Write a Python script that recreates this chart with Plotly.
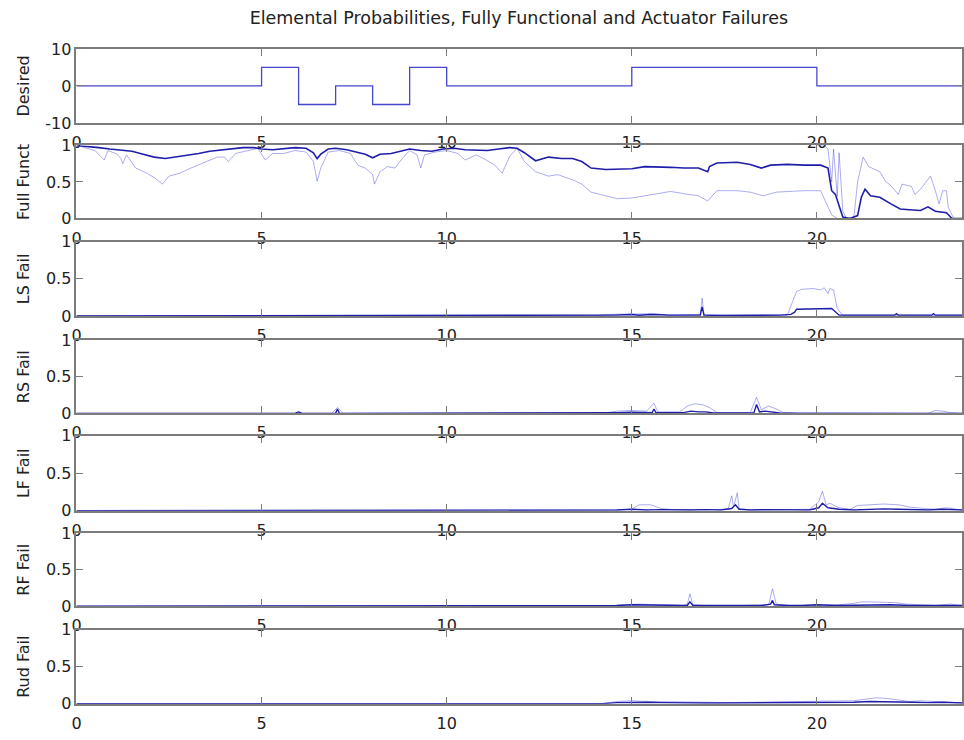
import plotly.graph_objects as go

# ---------------- data ----------------
desired_t = [0, 5, 6, 7, 8, 9, 10, 15, 20, 23.92]
desired_v = [0, 5, -5, 0, -5, 5, 0, 5, 0, 0]

ff_mean_t = [0, 0.3, 0.6, 0.9, 1.2, 1.5, 1.8, 2.1, 2.4, 2.7, 3.0, 3.3, 3.6, 3.9, 4.2, 4.5, 4.8,
             5.0, 5.3, 5.6, 5.9, 6.2, 6.4, 6.5, 6.6, 6.8, 7.0, 7.3, 7.6, 7.8, 8.0, 8.2, 8.5, 8.8,
             9.0, 9.3, 9.6, 9.9, 10.2, 10.5, 10.8, 11.1, 11.4, 11.7, 11.9, 12.1, 12.4, 12.75,
             13.1, 13.4, 13.65, 13.9, 14.3, 14.6, 15.0, 15.35, 15.7, 16.05, 16.4, 16.8, 17.05,
             17.1, 17.3, 17.85, 18.2, 18.5, 18.75, 19.2, 19.65, 20.1, 20.3, 20.4, 20.5, 20.6,
             20.7, 20.9, 21.1, 21.2, 21.3, 21.45, 21.7, 22.0, 22.25, 22.5, 22.8, 23.0, 23.2,
             23.5, 23.65, 23.92]
ff_mean_v = [1.0, 0.99, 0.97, 0.95, 0.94, 0.92, 0.88, 0.84, 0.82, 0.84, 0.86, 0.89, 0.92, 0.94,
             0.96, 0.97, 0.97, 0.95, 0.94, 0.96, 0.97, 0.96, 0.90, 0.82, 0.88, 0.95, 0.96, 0.94,
             0.91, 0.88, 0.83, 0.88, 0.89, 0.93, 0.95, 0.93, 0.92, 0.95, 0.96, 0.94, 0.93, 0.93,
             0.95, 0.97, 0.96, 0.90, 0.79, 0.84, 0.82, 0.82, 0.78, 0.69, 0.67, 0.67, 0.68, 0.71,
             0.71, 0.70, 0.69, 0.69, 0.64, 0.71, 0.76, 0.77, 0.74, 0.69, 0.73, 0.74, 0.73, 0.73,
             0.69, 0.38, 0.33, 0.16, 0.02, 0.0, 0.04, 0.29, 0.40, 0.31, 0.29, 0.20, 0.13, 0.12,
             0.11, 0.16, 0.10, 0.08, 0.0, 0.0]

ff_low_t = [0, 0.3, 0.5, 0.75, 0.85, 1.1, 1.2, 1.25, 1.35, 1.6, 1.9, 2.1, 2.32, 2.5, 2.8, 3.0,
            3.2, 3.4, 3.6, 3.8, 4.0, 4.1, 4.3, 4.6, 4.9, 5.1, 5.3, 5.6, 5.9, 6.2, 6.4, 6.5, 6.6,
            6.8, 7.1, 7.4, 7.6, 7.8, 8.0, 8.05, 8.2, 8.4, 8.6, 8.8, 9.0, 9.2, 9.3, 9.4, 9.7, 10.0,
            10.3, 10.5, 10.8, 11.0, 11.3, 11.5, 11.7, 11.9, 12.1, 12.4, 12.75, 13.0, 13.4, 13.65,
            13.9, 14.3, 14.6, 15.0, 15.35, 15.7, 16.05, 16.4, 16.8, 17.05, 17.3, 17.85, 18.2,
            18.55, 18.9, 19.25, 19.65, 20.1, 20.2, 20.4, 20.55, 23.92]
ff_low_v = [1.0, 0.96, 0.93, 0.80, 0.93, 0.88, 0.82, 0.75, 0.87, 0.69, 0.62, 0.56, 0.47, 0.58,
            0.62, 0.67, 0.71, 0.76, 0.80, 0.84, 0.84, 0.78, 0.89, 0.93, 0.96, 0.80, 0.89, 0.89,
            0.93, 0.91, 0.78, 0.51, 0.69, 0.91, 0.93, 0.89, 0.73, 0.69, 0.60, 0.47, 0.64, 0.71,
            0.69, 0.82, 0.93, 0.87, 0.69, 0.87, 0.91, 0.93, 0.89, 0.80, 0.87, 0.82, 0.73, 0.62,
            0.85, 0.96, 0.78, 0.64, 0.58, 0.60, 0.53, 0.47, 0.36, 0.31, 0.27, 0.28, 0.31, 0.34,
            0.37, 0.34, 0.31, 0.24, 0.38, 0.38, 0.36, 0.31, 0.36, 0.37, 0.38, 0.38, 0.27, 0.05,
            0.0, 0.0]

ff_high_t = [20.0, 20.2, 20.3, 20.4, 20.45, 20.55, 20.6, 20.7, 20.8, 21.0, 21.1, 21.25, 21.4,
             21.7, 21.85, 22.0, 22.2, 22.3, 22.55, 22.65, 22.8, 22.98, 23.07, 23.2, 23.3, 23.4,
             23.5, 23.55, 23.7, 23.92]
ff_high_v = [1.0, 1.0, 0.95, 0.5, 0.95, 0.3, 0.9, 0.1, 0.0, 0.02, 0.5, 0.84, 0.71, 0.64, 0.51,
             0.45, 0.33, 0.47, 0.44, 0.33, 0.40, 0.51, 0.58, 0.38, 0.20, 0.38, 0.38, 0.15, 0.0,
             0.0]

ls_dark_t = [0, 14.2, 14.5, 14.8, 15.0, 15.2, 15.5, 15.8, 16.0, 16.85, 16.9, 16.95, 17.5, 19.0,
             19.3, 19.4, 19.45, 20.4, 20.45, 20.6, 22.1, 22.15, 22.2, 23.1, 23.15, 23.2, 23.92]
ls_dark_v = [0, 0, 0.01, 0.015, 0.02, 0.01, 0.02, 0.015, 0.01, 0.01, 0.12, 0.01, 0.005, 0.01,
             0.02, 0.05, 0.09, 0.10, 0.08, 0.01, 0.01, 0.03, 0.01, 0.01, 0.03, 0.01, 0.01]
ls_light_t = [0, 14.0, 14.3, 14.6, 15.0, 15.3, 15.6, 16.0, 16.85, 16.9, 16.95, 17.5, 19.2, 19.35,
              19.45, 19.6, 19.9, 20.1, 20.2, 20.3, 20.35, 20.45, 20.55, 20.7, 23.92]
ls_light_v = [0, 0, 0.02, 0.02, 0.03, 0.02, 0.03, 0.01, 0.02, 0.24, 0.02, 0.01, 0.01, 0.2, 0.33,
              0.36, 0.37, 0.35, 0.38, 0.3, 0.37, 0.35, 0.1, 0.01, 0.01]

rs_dark_t = [0, 5.9, 6.0, 6.1, 7.0, 7.05, 7.1, 14.2, 14.6, 15.0, 15.4, 15.55, 15.6, 15.65, 16.4,
             16.6, 16.8, 17.0, 17.2, 18.3, 18.37, 18.45, 18.6, 18.8, 19.0, 19.5, 23.0, 23.2, 23.4,
             23.92]
rs_dark_v = [0, 0, 0.02, 0, 0, 0.06, 0, 0, 0.01, 0.015, 0.01, 0.01, 0.06, 0.01, 0.01, 0.03,
             0.02, 0.02, 0.005, 0.01, 0.12, 0.02, 0.03, 0.02, 0.005, 0, 0, 0.01, 0.005, 0]
rs_light_t = [0, 6.9, 7.05, 7.2, 14.2, 14.6, 15.0, 15.4, 15.6, 15.7, 16.3, 16.5, 16.7, 16.9,
              17.1, 17.3, 18.2, 18.37, 18.5, 18.7, 18.9, 19.1, 23.0, 23.2, 23.4, 23.6, 23.92]
rs_light_v = [0, 0, 0.08, 0, 0, 0.03, 0.04, 0.03, 0.14, 0.02, 0.02, 0.1, 0.13, 0.12, 0.08,
              0.01, 0.01, 0.22, 0.05, 0.1, 0.06, 0.01, 0.0, 0.04, 0.03, 0.01, 0]

lf_dark_t = [0, 14.2, 14.6, 15.0, 15.4, 15.8, 16.2, 16.6, 17.0, 17.4, 17.7, 17.8, 17.9, 18.2,
             18.6, 19.0, 19.4, 19.8, 20.05, 20.15, 20.3, 20.6, 21.0, 21.4, 21.8, 22.2, 22.6,
             23.0, 23.4, 23.92]
lf_dark_v = [0, 0, 0.01, 0.02, 0.01, 0.015, 0.01, 0.01, 0.015, 0.01, 0.03, 0.08, 0.02, 0.01,
             0.015, 0.01, 0.015, 0.01, 0.04, 0.1, 0.04, 0.02, 0.01, 0.02, 0.025, 0.02, 0.015,
             0.01, 0.02, 0.01]
lf_light_t = [0, 14.2, 14.6, 15.0, 15.2, 15.5, 15.8, 16.2, 17.0, 17.6, 17.7, 17.75, 17.85, 17.9,
              18.2, 19.0, 19.8, 20.05, 20.15, 20.25, 20.35, 20.6, 20.9, 21.1, 21.4, 21.8, 22.2,
              22.5, 22.9, 23.2, 23.5, 23.92]
lf_light_v = [0, 0, 0.01, 0.02, 0.08, 0.08, 0.03, 0.01, 0.01, 0.02, 0.2, 0.05, 0.24, 0.03, 0.01,
              0.01, 0.02, 0.12, 0.26, 0.08, 0.1, 0.04, 0.02, 0.07, 0.08, 0.09, 0.08, 0.05, 0.03,
              0.02, 0.04, 0.01]

rf_dark_t = [0, 14.2, 14.6, 15.0, 15.4, 15.8, 16.2, 16.5, 16.57, 16.65, 17.0, 17.5, 18.0, 18.5,
             18.75, 18.8, 18.85, 19.2, 19.6, 20.0, 20.5, 21.0, 21.5, 22.0, 22.5, 23.0, 23.5,
             23.92]
rf_dark_v = [0, 0, 0.01, 0.02, 0.015, 0.01, 0.015, 0.01, 0.06, 0.01, 0.01, 0.01, 0.01, 0.01,
             0.03, 0.08, 0.02, 0.01, 0.01, 0.02, 0.01, 0.015, 0.02, 0.02, 0.01, 0.01, 0.015, 0.01]
rf_light_t = [0, 14.2, 14.8, 15.2, 15.6, 16.0, 16.4, 16.5, 16.57, 16.65, 17.0, 18.0, 18.7, 18.8,
              18.9, 19.3, 20.0, 20.6, 21.0, 21.2, 21.5, 21.8, 22.1, 22.4, 22.8, 23.2, 23.6, 23.92]
rf_light_v = [0, 0, 0.02, 0.03, 0.02, 0.01, 0.01, 0.03, 0.17, 0.02, 0.01, 0.01, 0.02, 0.24,
              0.03, 0.01, 0.02, 0.02, 0.04, 0.06, 0.06, 0.06, 0.05, 0.03, 0.02, 0.01, 0.03, 0.01]

rud_dark_t = [0, 14.2, 14.6, 15.0, 15.4, 15.8, 16.2, 16.6, 17.0, 17.4, 17.8, 18.2, 18.6, 19.0,
              19.4, 19.8, 20.2, 20.6, 21.0, 21.4, 21.8, 22.2, 22.6, 23.0, 23.4, 23.92]
rud_dark_v = [0, 0, 0.015, 0.02, 0.02, 0.015, 0.01, 0.015, 0.01, 0.01, 0.01, 0.01, 0.015,
              0.015, 0.02, 0.015, 0.02, 0.015, 0.02, 0.03, 0.03, 0.02, 0.02, 0.015, 0.02, 0.01]
rud_light_t = [0, 14.2, 14.6, 15.0, 15.4, 15.8, 16.4, 17.0, 17.6, 18.2, 18.8, 19.4, 20.0, 20.6,
               21.0, 21.3, 21.6, 21.9, 22.2, 22.5, 22.8, 23.2, 23.6, 23.92]
rud_light_v = [0, 0, 0.03, 0.04, 0.03, 0.03, 0.02, 0.02, 0.015, 0.02, 0.02, 0.03, 0.03, 0.03,
               0.04, 0.06, 0.08, 0.07, 0.05, 0.03, 0.04, 0.03, 0.02, 0.01]

panel_labels = ["Desired", "Full Funct", "LS Fail", "RS Fail", "LF Fail", "RF Fail", "Rud Fail"]
x_ticks = [0, 5, 10, 15, 20]
desired_yticks = [-10, 0, 10]
prob_yticks = [0, 0.5, 1]
prob_yticklabels = ["0", "0.5", "1"]
title_text = "Elemental Probabilities, Fully Functional and Actuator Failures"

# ---------------- layout geometry ----------------
W, H = 964, 740
panel_px = [(41, 117), (140, 215), (239, 315), (340, 415), (438, 515), (538, 613), (637, 713)]
x_left = 72 / W
x_range = [0, 23.92]

DARK = "#1e1eaa"
LIGHT = "rgba(70,70,225,0.45)"
DES = "#4646cc"
AXC = "#7c7c7c"
TXT = "#222222"
FONT = "DejaVu Sans"

fig = go.Figure()

def add(t, v, idx, color, width):
    sfx = "" if idx == 1 else str(idx)
    fig.add_trace(go.Scatter(x=t, y=v, mode="lines", xaxis="x" + sfx, yaxis="y" + sfx,
                             line=dict(color=color, width=width), showlegend=False,
                             hoverinfo="skip"))

fig.add_trace(go.Scatter(x=desired_t, y=desired_v, mode="lines", line_shape="hv",
                         line=dict(color=DES, width=1.3), showlegend=False, hoverinfo="skip"))
add(ff_low_t, ff_low_v, 2, LIGHT, 1)
add(ff_high_t, ff_high_v, 2, LIGHT, 1)
add(ff_mean_t, ff_mean_v, 2, DARK, 1.6)
series = [(ls_light_t, ls_light_v, ls_dark_t, ls_dark_v),
          (rs_light_t, rs_light_v, rs_dark_t, rs_dark_v),
          (lf_light_t, lf_light_v, lf_dark_t, lf_dark_v),
          (rf_light_t, rf_light_v, rf_dark_t, rf_dark_v),
          (rud_light_t, rud_light_v, rud_dark_t, rud_dark_v)]
for k, (lt, lv, dt, dv) in enumerate(series):
    add(lt, lv, k + 3, LIGHT, 1)
    add(dt, dv, k + 3, DARK, 1.4)

layout = dict(
    width=W, height=H, margin=dict(l=0, r=0, t=0, b=0),
    paper_bgcolor="white", plot_bgcolor="white",
    font=dict(family=FONT, size=16, color=TXT),
    title=dict(text=title_text, x=0.537, xanchor="center", xref="paper",
               y=1 - 18 / H, yref="container", yanchor="middle",
               font=dict(family=FONT, size=17.5, color=TXT)),
)
for i, (top, bot) in enumerate(panel_px):
    sfx = "" if i == 0 else str(i + 1)
    dom = [1 - bot / H, 1 - top / H]
    layout["xaxis" + sfx] = dict(
        domain=[x_left, 1.0], range=x_range, anchor="y" + sfx,
        tickvals=x_ticks, ticks="inside", ticklen=7, tickcolor=AXC, tickwidth=1.3,
        showline=True, linecolor=AXC, linewidth=1.8, mirror="ticks",
        showgrid=False, zeroline=False, ticklabelstandoff=4,
        tickfont=dict(family=FONT, size=16, color=TXT),
    )
    if i == 0:
        ytv, ytt, yr = desired_yticks, [str(v) for v in desired_yticks], [-10, 10]
    else:
        ytv, ytt, yr = prob_yticks, prob_yticklabels, [0, 1]
    layout["yaxis" + sfx] = dict(
        domain=dom, range=yr, anchor="x" + sfx,
        tickvals=ytv, ticktext=ytt, ticks="inside", ticklen=7, tickcolor=AXC, tickwidth=1.3,
        showline=True, linecolor=AXC, linewidth=1.8, mirror="ticks",
        showgrid=False, zeroline=False,
        tickfont=dict(family=FONT, size=16, color=TXT),
        title=dict(text=panel_labels[i], standoff=12, font=dict(family=FONT, size=16, color=TXT)),
    )
fig.update_layout(**layout)
fig.write_html("out.html")
